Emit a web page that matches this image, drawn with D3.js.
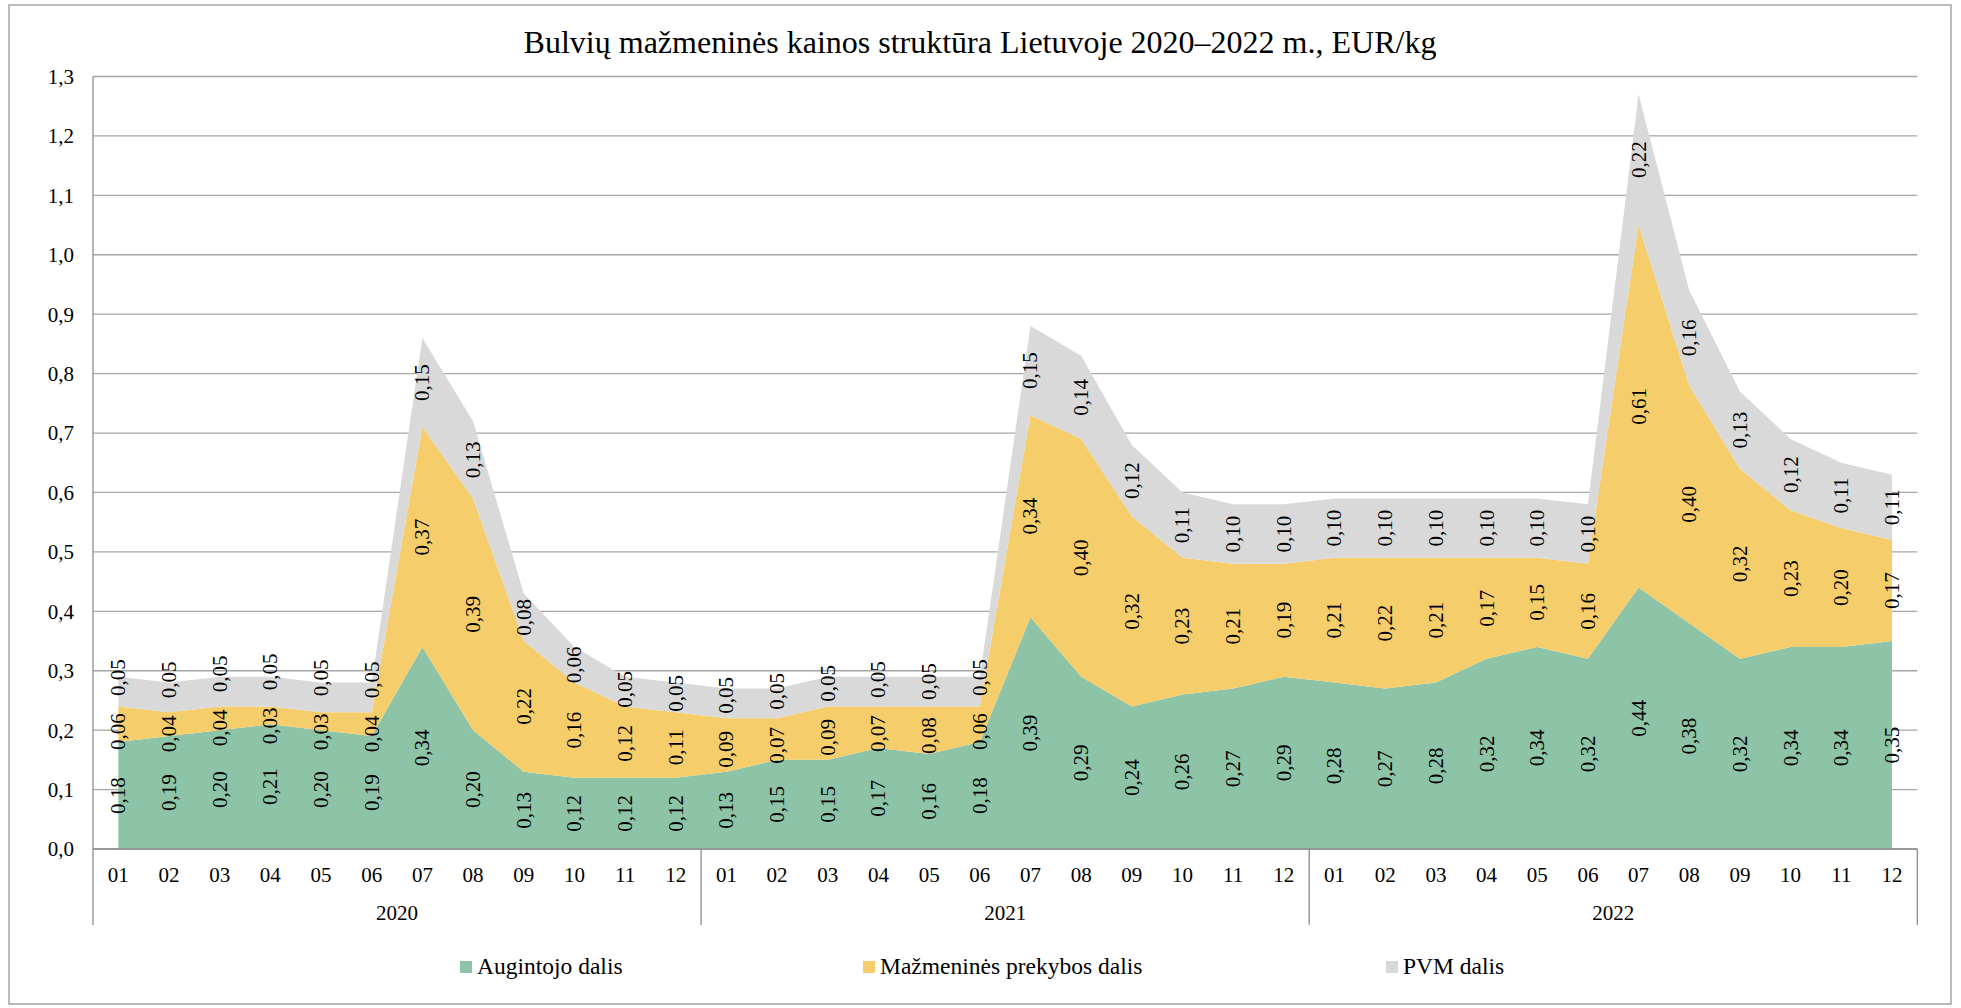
<!DOCTYPE html>
<html>
<head>
<meta charset="utf-8">
<script src="https://cdn.jsdelivr.net/npm/d3@7"></script>
<style>
  body { margin: 0; background: #fff; }
  svg text { font-family: "Liberation Serif", "Times New Roman", serif; fill: #000; }
</style>
</head>
<body>
<div id="chart"></div>
<script>
// chart data
const years = ["2020", "2021", "2022"];
const months = ["01","02","03","04","05","06","07","08","09","10","11","12"];
const seriesNames = ["Augintojo dalis", "Mažmeninės prekybos dalis", "PVM dalis"];
const seriesColors = ["#8dc3a7", "#f5cd6a", "#d9d9d9"];

const augintojo = [0.18,0.19,0.20,0.21,0.20,0.19,0.34,0.20,0.13,0.12,0.12,0.12,
                   0.13,0.15,0.15,0.17,0.16,0.18,0.39,0.29,0.24,0.26,0.27,0.29,
                   0.28,0.27,0.28,0.32,0.34,0.32,0.44,0.38,0.32,0.34,0.34,0.35];
const mazmenine = [0.06,0.04,0.04,0.03,0.03,0.04,0.37,0.39,0.22,0.16,0.12,0.11,
                   0.09,0.07,0.09,0.07,0.08,0.06,0.34,0.40,0.32,0.23,0.21,0.19,
                   0.21,0.22,0.21,0.17,0.15,0.16,0.61,0.40,0.32,0.23,0.20,0.17];
const pvm       = [0.05,0.05,0.05,0.05,0.05,0.05,0.15,0.13,0.08,0.06,0.05,0.05,
                   0.05,0.05,0.05,0.05,0.05,0.05,0.15,0.14,0.12,0.11,0.10,0.10,
                   0.10,0.10,0.10,0.10,0.10,0.10,0.22,0.16,0.13,0.12,0.11,0.11];

const W = 1961, H = 1008;
const plot = {left: 93, right: 1917.3, top: 76.5, bottom: 849};

// table for d3.stack
const rows = [];
years.forEach((yr, yi) => months.forEach((m, mi) => {
  const i = yi * 12 + mi;
  rows.push({key: yr + "-" + m, year: yr, month: m, a: augintojo[i], b: mazmenine[i], c: pvm[i]});
}));

const svg = d3.select("#chart").append("svg")
  .attr("width", W).attr("height", H);

// outer frame
svg.append("rect")
  .attr("x", 9).attr("y", 5).attr("width", 1942).attr("height", 999)
  .attr("fill", "#fff").attr("stroke", "#a6a6a6").attr("stroke-width", 1.5);

svg.append("text")
  .attr("x", 980).attr("y", 53)
  .attr("text-anchor", "middle")
  .style("font-size", "32px")
  .text("Bulvių mažmeninės kainos struktūra Lietuvoje 2020–2022 m., EUR/kg");

const x = d3.scaleBand().domain(rows.map(d => d.key)).range([plot.left, plot.right]).paddingInner(0);
const cx = k => x(k) + x.bandwidth() / 2;
const y = d3.scaleLinear().domain([0, 1.3]).range([plot.bottom, plot.top]);

// gridlines
svg.append("g")
  .selectAll("line")
  .data(y.ticks(13))
  .enter().append("line")
    .attr("x1", plot.left).attr("x2", plot.right)
    .attr("y1", d => y(d)).attr("y2", d => y(d))
    .attr("stroke", "#a6a6a6").attr("stroke-width", 1.3);

// y axis labels
const yAxis = svg.append("g")
  .attr("transform", "translate(" + plot.left + ",0)")
  .call(d3.axisLeft(y).ticks(13).tickSize(0).tickPadding(19)
        .tickFormat(d => d3.format(".1f")(d).replace(".", ",")));
yAxis.select(".domain").remove();
yAxis.selectAll("text").style("font-size", "21px").attr("dy", "0.33em");

// stacked areas
const stack = d3.stack().keys(["a", "b", "c"]);
const layers = stack(rows);

const area = d3.area()
  .x(d => cx(d.data.key))
  .y0(d => y(d[0]))
  .y1(d => y(d[1]));

svg.append("g")
  .selectAll("path")
  .data(layers)
  .enter().append("path")
    .attr("d", area)
    .attr("fill", (d, i) => seriesColors[i]);

// axis lines
svg.append("line")
  .attr("x1", plot.left).attr("x2", plot.right)
  .attr("y1", plot.bottom).attr("y2", plot.bottom)
  .attr("stroke", "#8c8c8c").attr("stroke-width", 1.3);
svg.append("line")
  .attr("x1", plot.left).attr("x2", plot.left)
  .attr("y1", plot.top).attr("y2", 925)
  .attr("stroke", "#8c8c8c").attr("stroke-width", 1.3);

// year separators
const yearEdges = years.map(yr => x(yr + "-01")).slice(1).concat([plot.right]);
svg.append("g")
  .selectAll("line")
  .data(yearEdges)
  .enter().append("line")
    .attr("x1", d => d).attr("x2", d => d)
    .attr("y1", plot.bottom).attr("y2", 925)
    .attr("stroke", "#8c8c8c").attr("stroke-width", 1.3);

// month labels
svg.append("g")
  .selectAll("text")
  .data(rows)
  .enter().append("text")
    .attr("x", d => cx(d.key)).attr("y", 882)
    .attr("text-anchor", "middle")
    .style("font-size", "21px")
    .text(d => d.month);

// year labels
svg.append("g")
  .selectAll("text")
  .data(years)
  .enter().append("text")
    .attr("x", yr => x(yr + "-01") + 6 * x.bandwidth())
    .attr("y", 920)
    .attr("text-anchor", "middle")
    .style("font-size", "21px")
    .text(yr => yr);

// data labels, centred in each band, nudged apart when they collide
const labels = [];
rows.forEach((r, i) => {
  const col = layers.map((L, s) => ({
    key: r.key, v: r[["a","b","c"][s]],
    yc: y((L[i][0] + L[i][1]) / 2)
  }));
  for (let it = 0; it < 10; it++) {
    for (let s = 1; s < col.length; s++) {
      const gap = col[s-1].yc - col[s].yc;
      const minGap = 54;
      if (gap < minGap) {
        // push the upper one a bit more than the lower one
        const push = minGap - gap;
        col[s-1].yc += push * 0.35;
        col[s].yc -= push * 0.65;
      }
    }
  }
  col.forEach(c => labels.push(c));
});

svg.append("g")
  .selectAll("text")
  .data(labels)
  .enter().append("text")
    .attr("transform", d => "translate(" + cx(d.key) + "," + d.yc + ") rotate(-90)")
    .attr("text-anchor", "middle")
    .attr("dy", "0.33em")
    .style("font-size", "21px")
    .text(d => d3.format(".2f")(d.v).replace(".", ","));

// legend
const legendX = [460, 863, 1386];
const leg = svg.append("g")
  .selectAll("g")
  .data(seriesNames)
  .enter().append("g")
    .attr("transform", (d, i) => "translate(" + legendX[i] + ",961)");
leg.append("rect")
  .attr("width", 12).attr("height", 12)
  .attr("fill", (d, i) => seriesColors[i]);
leg.append("text")
  .attr("x", 17).attr("y", 13)
  .style("font-size", "23.5px")
  .text(d => d);
</script>
</body>
</html>
